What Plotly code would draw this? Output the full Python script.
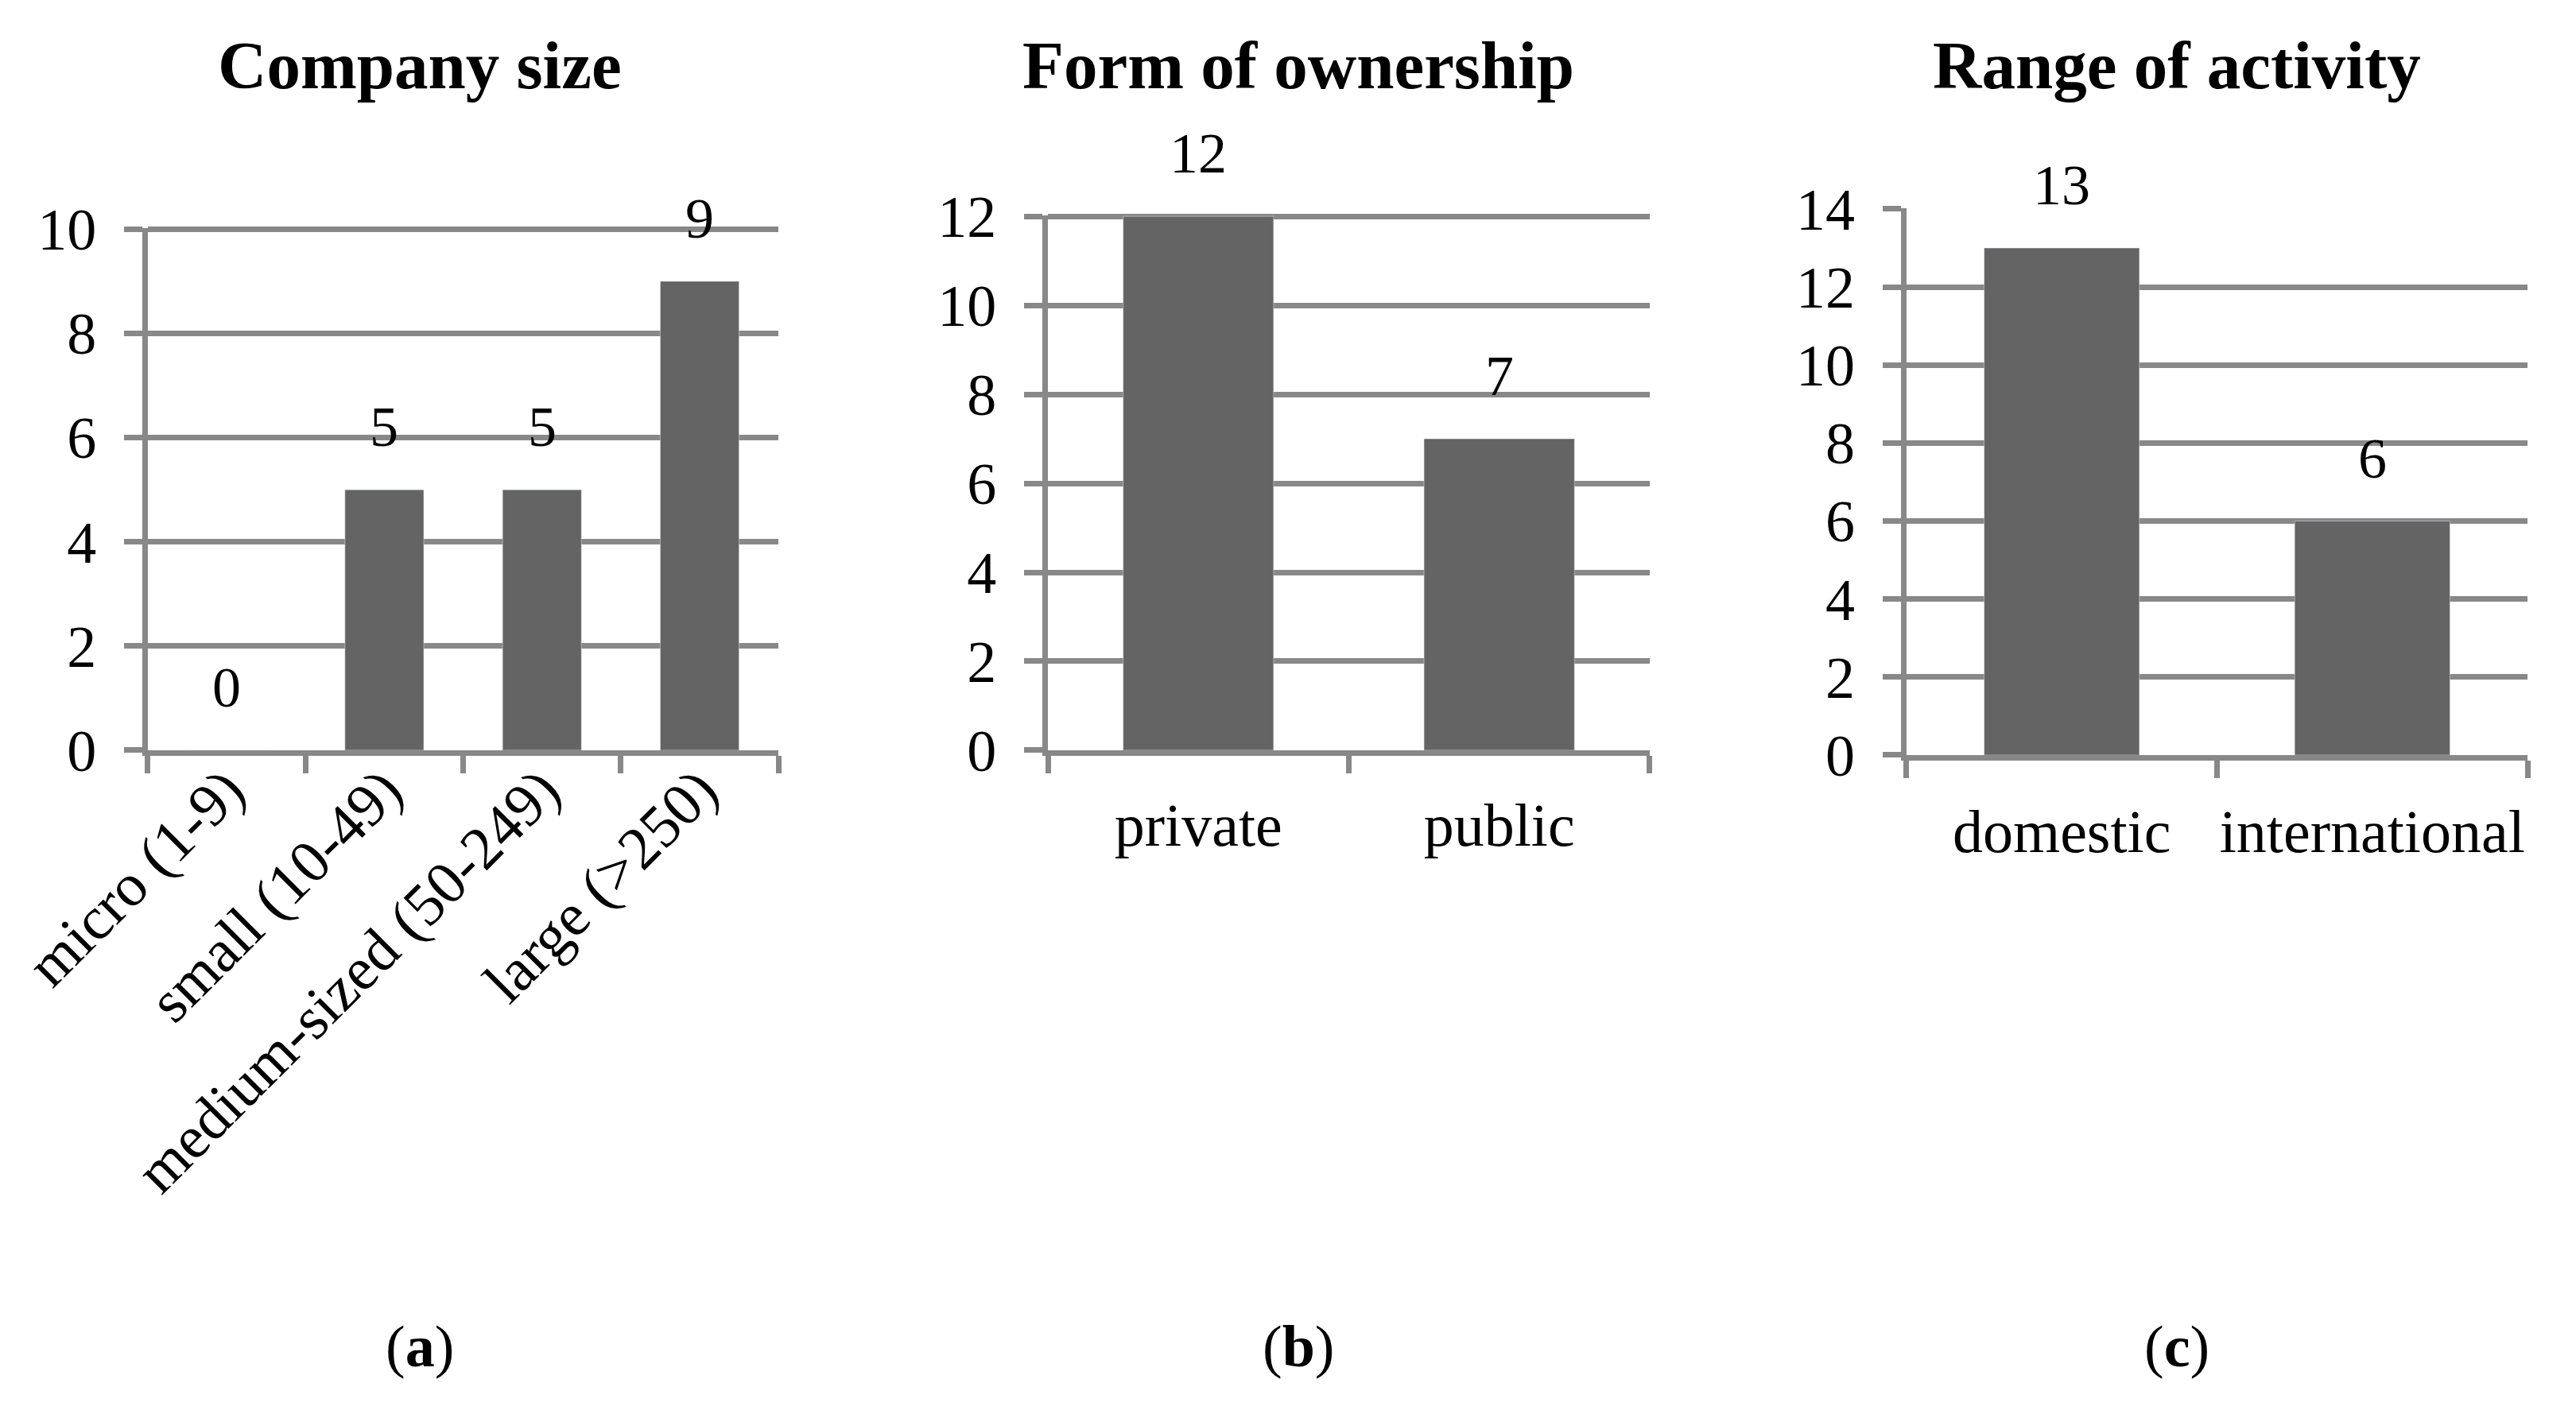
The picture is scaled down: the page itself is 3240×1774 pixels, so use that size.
import plotly.graph_objects as go

# data
size_cats = ['micro (1-9)', 'small (10-49)', 'medium-sized (50-249)', 'large (>250)']
size_vals = [0, 5, 5, 9]

owner_cats = ['private', 'public']
owner_vals = [12, 7]

range_cats = ['domestic', 'international']
range_vals = [13, 6]

titles = ['Company size', 'Form of ownership', 'Range of activity']
panel_tags = ['a', 'b', 'c']

font_family = 'Palatino Linotype, Book Antiqua, Palatino, Liberation Serif, serif'
bar_color = '#646464'
grid_color = '#888888'

W, H = 3240, 1774
# page body adds ~8px offset, shift everything back
dx = 8 / W
dy = 8 / H

panels = [
    (size_cats, size_vals, [0.0574, 0.3022], [0.4679, 0.8382], 10, -45, -32),
    (owner_cats, owner_vals, [0.4068, 0.6404], [0.4679, 0.8472], 12, 0, 22),
    (range_cats, range_vals, [0.7401, 0.9812], [0.4645, 0.8523], 14, 0, 24),
]
title_x = [0.163, 0.504, 0.845]

fig = go.Figure()

for i, (cats, vals, xdom, ydom, ymax, angle, standoff) in enumerate(panels):
    n = '' if i == 0 else str(i + 1)
    fig.add_trace(go.Bar(x=cats, y=vals, marker_color=bar_color, width=0.5,
                         xaxis='x' + n, yaxis='y' + n, showlegend=False,
                         hoverinfo='x+y'))
    fig.update_layout(**{
        'xaxis' + n: dict(domain=[xdom[0] - dx, xdom[1] - dx], anchor='y' + n,
                          type='category', showgrid=False, showline=True,
                          linecolor=grid_color, linewidth=7, ticks='outside',
                          tickson='boundaries', ticklen=22, tickwidth=7,
                          tickcolor=grid_color, tickangle=angle,
                          ticklabelstandoff=standoff, automargin=False,
                          tickfont=dict(size=76, color='black', family=font_family)),
        'yaxis' + n: dict(domain=[ydom[0] + dy, ydom[1] + dy], anchor='x' + n,
                          range=[0, ymax + 0.02], dtick=2,
                          showgrid=True, gridcolor=grid_color, gridwidth=7,
                          zeroline=False, showline=True, linecolor=grid_color,
                          linewidth=7, ticks='outside', ticklen=23, tickwidth=7,
                          tickcolor=grid_color, ticklabelstandoff=20,
                          automargin=False,
                          tickfont=dict(size=74, color='black', family=font_family)),
    })
    # value labels above bars
    for c, v in zip(cats, vals):
        fig.add_annotation(x=c, y=v, xref='x' + n, yref='y' + n, text=str(v),
                           showarrow=False, yanchor='middle', yshift=79,
                           font=dict(size=72, color='black', family=font_family))
    fig.add_annotation(x=title_x[i] - dx, y=0.9585, xref='paper', yref='paper',
                       text='<b>' + titles[i] + '</b>', showarrow=False,
                       xanchor='center', yanchor='middle',
                       font=dict(size=85, color='black', family=font_family))
    fig.add_annotation(x=title_x[i] - dx, y=0.0496, xref='paper', yref='paper',
                       text='(<b>' + panel_tags[i] + '</b>)', showarrow=False,
                       xanchor='center', yanchor='middle',
                       font=dict(size=74, color='black', family=font_family))

fig.update_layout(width=W, height=H, margin=dict(l=0, r=0, t=0, b=0),
                  paper_bgcolor='white', plot_bgcolor='white', bargap=0.5)

fig.write_html("out.html")
